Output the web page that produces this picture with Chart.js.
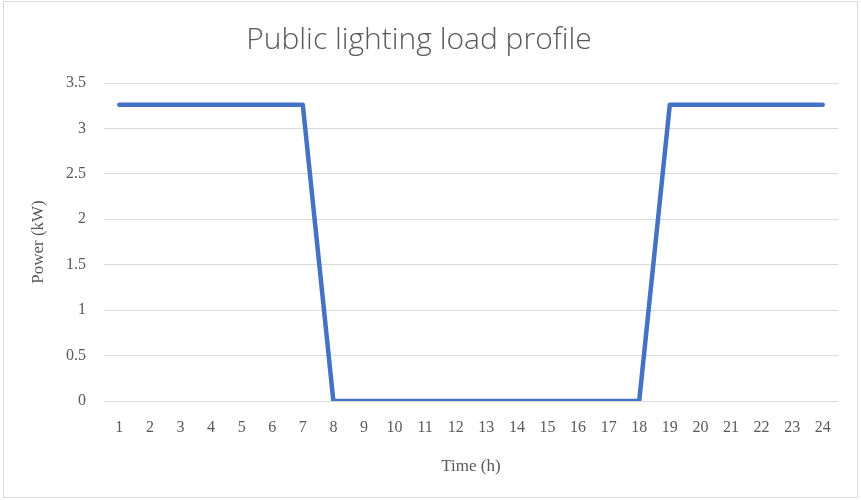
<!DOCTYPE html>
<html>
<head>
<meta charset="utf-8">
<script src="https://cdn.jsdelivr.net/npm/chart.js@4.4.1/dist/chart.umd.min.js"></script>
<style>
  body { margin: 0; background: #fff; }
  #wrap { width: 861px; height: 500px; position: relative; }
</style>
</head>
<body>
<div id="wrap"><canvas id="chart" width="861" height="500"></canvas></div>
<script>
const hours = ["1","2","3","4","5","6","7","8","9","10","11","12","13","14","15","16","17","18","19","20","21","22","23","24"];
const power = [3.26, 3.26, 3.26, 3.26, 3.26, 3.26, 3.26, 0, 0, 0, 0, 0, 0, 0, 0, 0, 0, 0, 3.26, 3.26, 3.26, 3.26, 3.26, 3.26];

const grey = "#595959";
const serif = "'Liberation Serif', 'DejaVu Serif', serif";

// light frame round the whole chart, like the Excel chart area
const frame = {
    id: "frame",
    afterDraw(chart) {
        const ctx = chart.ctx;
        ctx.save();
        ctx.strokeStyle = "#d9d9d9";
        ctx.lineWidth = 1;
        ctx.strokeRect(3.5, 1.5, 854, 496);
        ctx.restore();
    }
};

new Chart(document.getElementById("chart"), {
    type: "line",
    data: {
        labels: hours,
        datasets: [{
            data: power,
            borderColor: "#4472C4",
            borderWidth: 4.5,
            borderCapStyle: "round",
            borderJoinStyle: "round",
            pointRadius: 0,
            tension: 0
        }]
    },
    options: {
        responsive: false,
        animation: false,
        layout: { padding: { left: 0, right: 23, top: 0, bottom: 0 } },
        plugins: {
            legend: { display: false },
            tooltip: { enabled: false },
            title: {
                display: true,
                text: "Public lighting load profile",
                color: grey,
                font: { family: "'Open Sans', sans-serif", size: 30, weight: "300" },
                padding: { top: 22, bottom: 25 }
            }
        },
        scales: {
            x: {
                offset: true,
                grid: { display: false, drawTicks: false },
                border: { display: false },
                ticks: { color: grey, font: { family: serif, size: 16 }, padding: 17, maxRotation: 0 },
                title: {
                    display: true,
                    text: "Time (h)",
                    color: grey,
                    font: { family: serif, size: 17 },
                    padding: { top: 0, bottom: 23 }
                },
                afterFit(scale) { scale.height = 99; }
            },
            y: {
                min: 0,
                max: 3.5,
                ticks: {
                    stepSize: 0.5,
                    color: grey,
                    font: { family: serif, size: 16 },
                    padding: 18,
                    callback: v => String(v)
                },
                grid: { color: "#d9d9d9", lineWidth: 1, drawTicks: false },
                border: { display: false },
                title: {
                    display: true,
                    text: "Power (kW)",
                    color: grey,
                    font: { family: serif, size: 17 },
                    padding: { top: 28, bottom: 0 }
                },
                afterFit(scale) { scale.width = 104; }
            }
        }
    },
    plugins: [frame]
});
</script>
</body>
</html>
